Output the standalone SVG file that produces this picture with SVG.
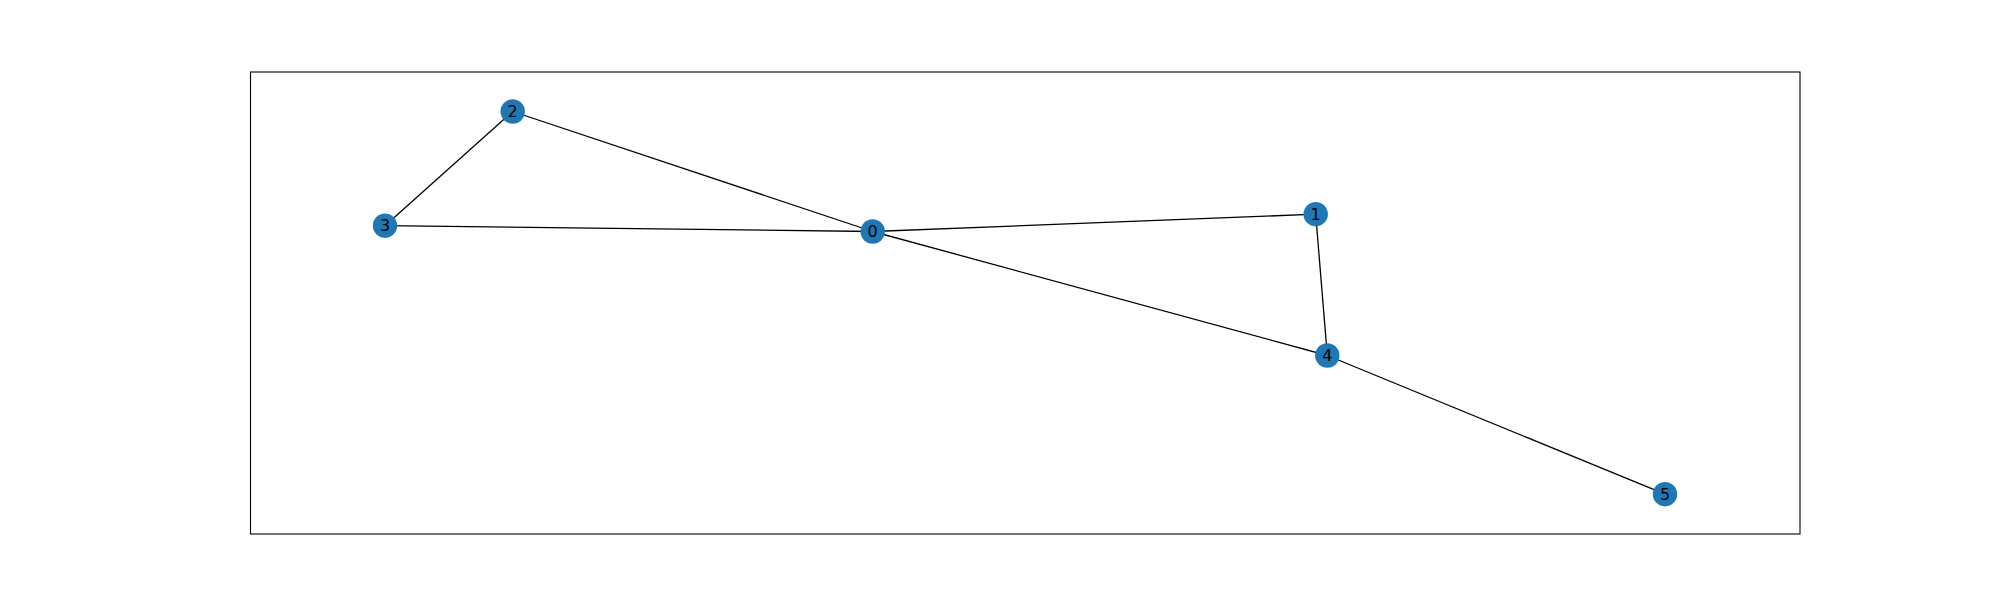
<svg xmlns="http://www.w3.org/2000/svg" width="2000" height="600" viewBox="0 0 2000 600">
<style>
.edge{stroke:#000;stroke-width:1.3;fill:none}
.node circle{fill:#1f77b4;stroke:none}
.node text{font-family:"DejaVu Sans",sans-serif;font-size:16px;fill:#000;text-anchor:middle;dominant-baseline:central}
</style>
<rect x="0" y="0" width="2000" height="600" fill="#fff"/>
<rect x="250.5" y="72" width="1549.5" height="462" fill="none" stroke="#000" stroke-width="1.1"/>
<g id="edges">
<line class="edge" x1="872.7" y1="231.5" x2="512.7" y2="111.5"/>
<line class="edge" x1="872.7" y1="231.5" x2="385" y2="225.7"/>
<line class="edge" x1="872.7" y1="231.5" x2="1315.7" y2="214.2"/>
<line class="edge" x1="872.7" y1="231.5" x2="1327.3" y2="355.5"/>
<line class="edge" x1="512.7" y1="111.5" x2="385" y2="225.7"/>
<line class="edge" x1="1315.7" y1="214.2" x2="1327.3" y2="355.5"/>
<line class="edge" x1="1327.3" y1="355.5" x2="1665" y2="494.2"/>
</g>
<g id="node0" class="node"><circle cx="872.7" cy="231.5" r="12.2"/><text x="872.7" y="231.5">0</text></g>
<g id="node1" class="node"><circle cx="1315.7" cy="214.2" r="12.2"/><text x="1315.7" y="214.2">1</text></g>
<g id="node2" class="node"><circle cx="512.7" cy="111.5" r="12.2"/><text x="512.7" y="111.5">2</text></g>
<g id="node3" class="node"><circle cx="385" cy="225.7" r="12.2"/><text x="385" y="225.7">3</text></g>
<g id="node4" class="node"><circle cx="1327.3" cy="355.5" r="12.2"/><text x="1327.3" y="355.5">4</text></g>
<g id="node5" class="node"><circle cx="1665" cy="494.2" r="12.2"/><text x="1665" y="494.2">5</text></g>
</svg>
